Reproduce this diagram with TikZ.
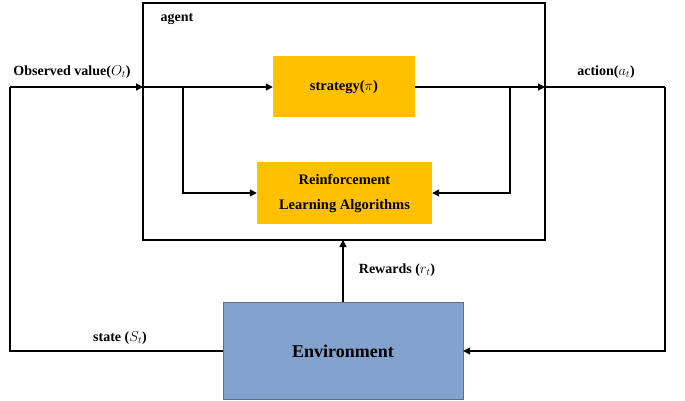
\documentclass[tikz,border=0pt]{standalone}
\usepackage{fontspec}
\setmainfont{Liberation Serif}
\usetikzlibrary{arrows.meta}
\definecolor{orng}{HTML}{FFC000}
\definecolor{envb}{HTML}{84A2CE}
\begin{document}
\begin{tikzpicture}[x=1pt,y=-1pt,
  box/.style={draw=none,inner sep=0,font=\bfseries\fontsize{14.5}{17}\selectfont},
  lab/.style={font=\bfseries\fontsize{14}{16}\selectfont,inner sep=0},
  arr/.style={-{Triangle[length=7pt,width=7pt]},line width=1.3pt},
  ln/.style={line width=1.3pt}]
\useasboundingbox (0,0) rectangle (685,401);
\draw[line width=1.3pt] (143,3) rectangle (545,240);
\node[lab] (ag) at (177,19) {agent};
\node[box,fill=orng,minimum width=142pt,minimum height=61pt] (st) at (344,87) {strategy($\pi$)};
\node[box,fill=orng,minimum width=175pt,minimum height=62pt,align=center] (rl) at (344.5,193) {Reinforcement\\[8pt]Learning Algorithms};
\node[box,fill=envb,draw=envb!70!black,minimum width=240pt,minimum height=97pt,font=\bfseries\fontsize{18}{21}\selectfont] (env) at (343,351) {Environment};
\coordinate (aL) at (143,87);
\coordinate (aR) at (545,87);
\coordinate (aB) at (343,240);
\coordinate (bl) at (183,87);
\coordinate (br) at (510,87);
\coordinate (tl) at (10,87);
\coordinate (tr) at (665,87);
\draw[arr] (tl) -- (aL);
\draw[arr] (aL) -- (st.west);
\draw[arr] (bl) |- (rl.west);
\draw[arr] (st.east) -- (aR);
\draw[arr] (br) |- (rl.east);
\draw[ln] (aR) -- (tr);
\draw[arr] (tr) |- (env.east);
\draw[ln] (env.west) -| (tl);
\draw[arr] (env.north) -- (aB);
\node[lab] at (72,72) {Observed value($O_t$)};
\node[lab] at (606,72) {action($a_t$)};
\node[lab] at (120,338) {state ($S_t$)};
\node[lab] at (397,270) {Rewards ($r_t$)};
\end{tikzpicture}
\end{document}
